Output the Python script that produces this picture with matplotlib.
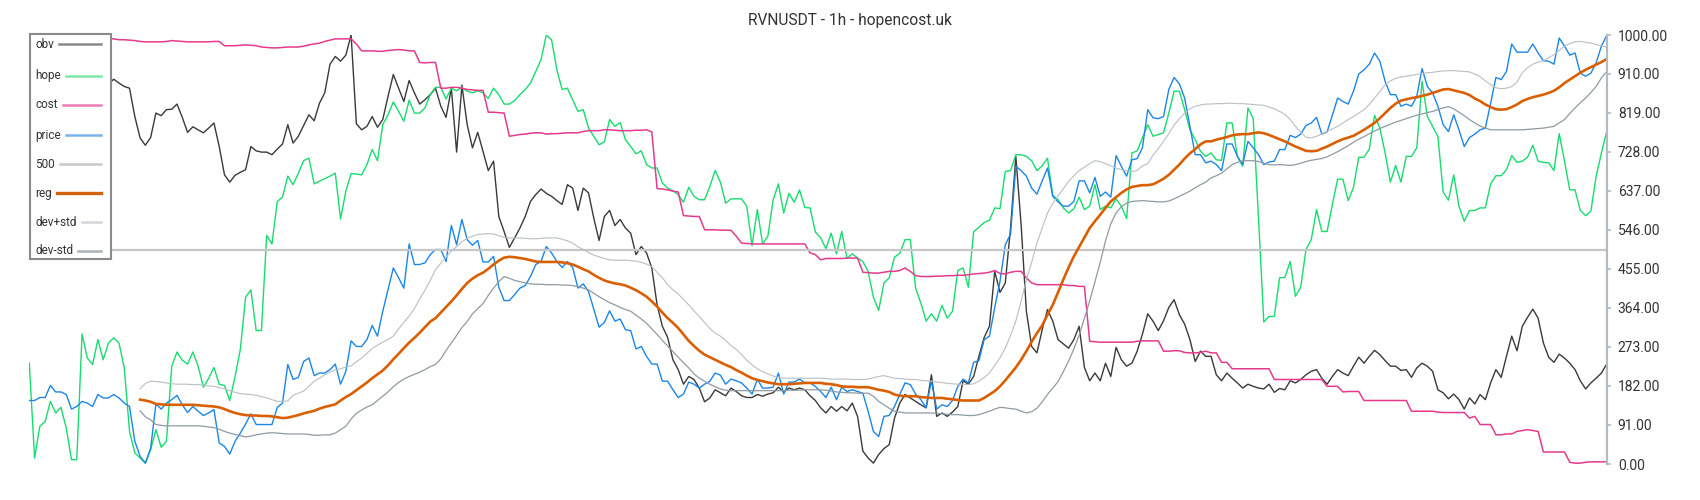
import numpy as np
import matplotlib
matplotlib.use("Agg")
import matplotlib.pyplot as plt
from matplotlib.lines import Line2D
from matplotlib.patches import Rectangle

plt.rcParams['font.family'] = ['Roboto', 'DejaVu Sans']

title = "RVNUSDT - 1h - hopencost.uk"

# all series are scaled 0..1000, one value per hourly bar (300 bars)
obv = [905, 898, 890, 880, 885, 892, 880, 870, 878, 885, 890, 880, 872, 880, 888, 885,
       897, 888, 880, 876, 810, 760, 743, 761, 818, 812, 826, 827, 839, 808, 773, 786, 779, 772, 783, 795,
       740, 674, 657, 673, 680, 686, 740, 730, 727, 727, 721, 734, 746, 791, 748, 764, 789, 814, 800, 841,
       865, 932, 950, 939, 953, 1000, 793, 779, 787, 810, 785, 803, 857, 908, 876, 845, 894, 865, 839, 849,
       861, 876, 834, 808, 876, 727, 883, 791, 737, 773, 729, 684, 706, 577, 542, 505, 527, 550, 577, 612,
       628, 641, 631, 624, 614, 605, 651, 643, 591, 643, 632, 573, 521, 577, 591, 556, 570, 550, 538, 488,
       507, 492, 457, 371, 321, 295, 243, 220, 186, 204, 197, 177, 145, 154, 173, 166, 159, 177, 169, 159,
       155, 155, 162, 158, 163, 166, 179, 168, 177, 173, 177, 173, 159, 148, 131,
       119, 134, 123, 134, 124, 142, 111, 30, 14, 2, 22, 36, 45, 107, 142, 162, 154, 146, 138, 131,
       208, 111, 119, 111, 121, 134, 194, 186, 204, 251, 295, 321, 449, 400, 422, 550, 717, 558, 356, 274,
       259, 313, 360, 333, 290, 280, 270, 290, 321, 225, 194, 212, 194, 235, 204, 272, 243, 228, 235, 263,
       303, 350, 333, 311, 334, 365, 383, 348, 326, 290, 239, 263, 251,
       251, 208, 194, 212, 200, 189, 177, 186, 181, 177, 175, 186, 167, 176, 173, 194, 189, 197, 208, 216,
       220, 200, 186, 204, 220, 212, 206, 228, 249, 235, 251, 265, 255, 241, 228, 228, 218, 220, 202, 224,
       235, 228, 216, 173, 166, 152, 163, 150, 128, 154, 140, 162, 150, 189, 220, 202, 251, 298, 264, 321,
       342, 361, 340, 282, 249, 237, 256, 247, 235, 220, 194, 175, 189, 200, 212, 233]

hope = [235, 14, 88, 99, 146, 119, 132, 84, 10, 10, 303, 247, 232, 290, 243, 282, 294, 282, 224, 76,
        26, 14, 2, 33, 80, 39, 53, 228, 261, 242, 233, 261, 228, 179, 200, 225, 186, 183, 148, 204,
        267, 389, 406, 311, 311, 533, 513, 612, 622, 671, 651, 678, 707, 713, 653, 659, 665, 671, 678, 571,
        636, 677, 676, 674, 698, 733, 707, 791, 814, 844, 822, 799, 848, 818, 818, 830,
        861, 878, 878, 851, 876, 870, 878, 869, 865, 870, 865, 852, 876, 861, 839, 839, 847, 861, 873, 888,
        915, 942, 1000, 989, 919, 873, 876, 849, 822, 826, 783, 764, 744, 751, 803, 787, 796, 756, 740, 723,
        730, 698, 690, 690, 655, 643, 637, 628, 610, 645, 624, 616, 616, 647, 684, 657, 608, 618, 618, 618,
        601, 509, 593, 513, 531, 616, 653, 585, 631, 610, 639, 598, 597, 541, 527,
        502, 538, 490, 542, 479, 490, 480, 472, 449, 389, 358, 422, 434, 482, 491, 523, 523, 410, 375, 333,
        350, 333, 370, 340, 356, 451, 457, 412, 541, 552, 563, 568, 597, 595, 682, 684, 721, 721, 717, 707,
        684, 695, 713, 626, 616, 597, 585, 595, 622, 593, 601, 651, 593, 601, 597, 618, 601, 572, 725, 730,
        760, 791, 764, 768, 772, 818, 869, 869, 826, 779, 756, 729, 717,
        725, 709, 708, 795, 795, 717, 694, 830, 805, 573, 331, 344, 344, 434, 435, 472, 391, 412, 500, 523,
        593, 542, 542, 605, 664, 664, 614, 645, 715, 715, 734, 813, 783, 725, 657, 696, 657, 717, 717, 737,
        892, 810, 787, 764, 634, 615, 674, 601, 566, 591, 591, 597, 597, 653, 672, 672, 686, 719, 703, 706,
        715, 743, 706, 703, 702, 684, 770, 706, 639, 639, 591, 579, 589, 671, 725, 775]

cost = [1000, 999, 1000, 1000, 999, 999, 998, 998, 997, 996, 995, 994, 993, 992, 991, 991,
        991, 989, 989, 988, 987, 985, 984, 984, 984, 984, 985, 987, 986, 985, 984, 984, 984, 984, 984, 985,
        985, 975, 975, 975, 976, 977, 976, 975, 972, 971, 970, 970, 971, 972, 972, 972, 974, 977, 979, 981,
        985, 988, 991, 991, 991, 991, 979, 963, 963, 963, 962, 962, 964, 965, 966, 965, 963, 963, 936, 935,
        936, 936, 876, 876, 878, 878, 876, 873, 872, 871, 871, 820, 820, 819, 818, 764, 766, 768, 769, 771,
        772, 772, 769, 770, 770, 771, 772, 772, 772, 775, 777, 777, 777, 779, 779, 778, 777, 777, 777, 778,
        778, 779, 774, 642, 641, 639, 636, 634, 579, 578, 577, 577, 546, 546, 546, 545, 545, 545, 531, 515,
        514, 513, 513, 513, 513, 513, 513, 513, 513, 513, 513, 513, 492, 488, 476,
        479, 479, 479, 479, 480, 480, 480, 447, 446, 445, 445, 447, 449, 449, 451, 457, 449, 439, 437, 437,
        437, 438, 438, 439, 439, 440, 440, 441, 443, 444, 445, 447, 451, 444, 443, 447, 449, 449, 434, 422,
        418, 418, 418, 418, 418, 418, 416, 416, 414, 414, 286, 285, 284, 284, 284, 284, 284, 284, 284, 286,
        287, 287, 287, 287, 263, 263, 264, 264, 260, 259, 259, 260, 263,
        259, 259, 237, 237, 222, 222, 222, 222, 222, 222, 222, 222, 197, 197, 197, 197, 197, 197, 197, 197,
        197, 197, 181, 181, 181, 168, 169, 169, 169, 148, 148, 148, 148, 148, 148, 148, 148, 148, 123, 123,
        123, 123, 123, 121, 120, 120, 120, 120, 120, 107, 111, 92, 92, 92, 68, 68, 70, 70, 76, 78,
        80, 78, 76, 28, 28, 28, 28, 28, 4, 2, 2, 4, 5, 5, 5, 5]

price = [148, 148, 155, 155, 183, 168, 168, 162, 128, 134, 146, 142, 134, 162, 154, 154, 162, 154, 142, 134,
         53, 18, 2, 37, 140, 128, 142, 150, 160, 138, 120, 134, 123, 113, 119, 127, 49, 41, 23, 53,
         72, 93, 117, 92, 92, 92, 92, 132, 142, 232, 197, 202, 239, 247, 206, 212, 212, 220, 233, 186,
         216, 287, 274, 274, 290, 323, 298, 356, 406, 457, 434, 410, 513, 465, 465, 469,
         488, 500, 500, 472, 556, 511, 570, 523, 510, 521, 471, 471, 484, 412, 381, 381, 395, 410, 416, 437,
         465, 472, 507, 492, 472, 458, 472, 458, 410, 420, 402, 361, 319, 330, 357, 333, 338, 313, 311, 268,
         274, 251, 233, 233, 193, 193, 173, 155, 163, 191, 186, 177, 186, 193, 212, 207, 186, 198, 194, 189,
         177, 163, 197, 177, 177, 179, 212, 163, 191, 191, 198, 189, 189, 181, 169,
         155, 179, 150, 179, 169, 173, 169, 165, 123, 76, 64, 111, 113, 134, 162, 189, 185, 163, 150, 131,
         194, 128, 138, 134, 148, 181, 198, 189, 237, 241, 290, 298, 365, 426, 511, 536, 694, 684, 671, 643,
         629, 660, 690, 624, 611, 601, 601, 612, 660, 660, 632, 668, 624, 634, 622, 719, 694, 671, 709, 712,
         737, 826, 807, 805, 810, 873, 901, 886, 853, 787, 721, 721, 702,
         706, 698, 684, 746, 746, 717, 698, 752, 737, 721, 698, 704, 706, 733, 733, 766, 761, 769, 789, 795,
         808, 769, 774, 813, 853, 845, 839, 869, 909, 919, 932, 958, 939, 892, 861, 861, 834, 839, 834, 857,
         922, 880, 865, 834, 791, 775, 814, 779, 740, 761, 769, 779, 783, 841, 901, 896, 915, 979, 960, 960,
         960, 979, 958, 940, 939, 932, 993, 974, 953, 958, 911, 904, 911, 935, 974, 999]

level_500 = 500

# regression channel only exists from bar 21 on
reg_start = 21
reg = [150, 148, 145, 140, 139, 138, 138, 138, 138, 138, 138, 137, 136, 135, 134, 132, 128, 123, 119, 116,
       114, 113, 113, 112, 112, 111, 109, 107, 108, 111, 114, 118, 121, 124, 129, 133, 136, 139, 148, 156,
       163, 172, 181, 190, 200, 209, 218, 230, 244, 257, 270, 283, 294, 306, 319,
       332, 340, 353, 366, 379, 393, 408, 422, 432, 440, 446, 455, 465, 474, 481, 483, 482, 480, 478, 475,
       472, 471, 471, 471, 471, 470, 468, 465, 460, 454, 449, 441, 434, 428, 424, 421, 419, 416, 411, 405,
       398, 390, 379, 367, 353, 340, 329, 317, 302, 287, 275, 264, 255, 249, 243, 237, 231, 226, 219, 213,
       206, 200, 196, 193, 190, 188, 186, 186, 186, 187, 188, 189, 189, 189, 189,
       187, 186, 184, 181, 180, 180, 179, 179, 179, 176, 173, 171, 168, 162, 159, 158, 158, 158, 156, 155,
       154, 154, 154, 152, 151, 149, 148, 148, 148, 148, 154, 162, 170, 181, 195, 210, 225, 243, 263, 285,
       305, 323, 348, 371, 400, 430, 458, 484, 506, 528, 550, 566, 581, 597, 612, 622, 632, 640, 646, 648,
       650, 650, 652, 658, 665, 674, 686, 698, 712, 724, 734, 745, 752,
       752, 756, 759, 762, 766, 768, 769, 769, 771, 773, 771, 767, 762, 757, 752, 746, 740, 735, 730, 729,
       730, 735, 740, 746, 752, 757, 761, 765, 772, 779, 787, 795, 806, 818, 830, 840, 847, 850, 853, 855,
       858, 861, 865, 869, 873, 874, 871, 868, 865, 860, 852, 846, 838, 832, 827, 826, 827, 832, 838, 846,
       851, 855, 858, 861, 865, 870, 878, 888, 896, 904, 912, 919, 925, 931, 937, 944]

dev_plus = [175, 188, 193, 192, 191, 189, 187, 186, 186, 186, 185, 185, 184, 182, 181, 178, 175, 171, 167, 164,
            163, 162, 160, 157, 154, 150, 146, 146, 147, 160, 165, 170, 181, 193, 200, 208, 214, 219, 222, 226,
            229, 238, 247, 258, 269, 277, 284, 290, 298, 315, 330, 345, 362, 385, 405,
            428, 453, 468, 482, 496, 507, 518, 526, 531, 535, 536, 537, 536, 532, 528, 527, 527, 527, 526, 525,
            525, 526, 527, 527, 527, 524, 520, 515, 506, 500, 493, 487, 483, 479, 476, 475, 475, 475, 474, 473,
            470, 466, 460, 447, 434, 418, 406, 396, 384, 371, 357, 344, 330, 316, 305, 298, 288, 276, 267, 255,
            242, 231, 222, 215, 210, 205, 202, 200, 200, 200, 200, 200, 200, 200, 200,
            199, 198, 198, 198, 198, 197, 197, 197, 198, 201, 204, 206, 203, 200, 199, 198, 197, 197, 195, 194,
            193, 191, 190, 188, 187, 186, 186, 185, 187, 193, 202, 212, 230, 248, 270, 300, 333, 380, 430, 470,
            515, 550, 585, 608, 625, 642, 659, 672, 684, 692, 700, 707, 705, 700, 695, 690, 686, 684, 682, 684,
            695, 700, 720, 735, 752, 770, 790, 805, 818, 828, 834, 837, 839,
            839, 840, 840, 841, 841, 840, 840, 839, 838, 837, 836, 832, 828, 822, 815, 803, 787, 773, 762, 760,
            764, 769, 775, 781, 787, 795, 803, 810, 818, 826, 838, 853, 868, 884, 893, 899, 902, 904, 906, 908,
            910, 912, 913, 915, 916, 917, 917, 916, 915, 914, 909, 903, 893, 884, 877, 875, 876, 880, 890, 912,
            924, 932, 937, 940, 947, 954, 964, 974, 980, 984, 985, 983, 981, 978, 975, 971]

dev_minus = [124, 110, 103, 92, 90, 89, 89, 89, 89, 89, 89, 89, 88, 86, 85, 81, 76, 72, 69, 66,
             63, 65, 68, 70, 72, 73, 72, 71, 70, 70, 70, 70, 69, 67, 67, 68, 68, 72, 80, 88,
             105, 118, 126, 133, 138, 148, 158, 168, 180, 190, 198, 204, 209, 214, 220,
             227, 232, 245, 265, 282, 300, 318, 332, 350, 362, 374, 393, 410, 425, 437, 433, 428, 425, 422, 420,
             419, 419, 418, 418, 418, 417, 417, 416, 413, 410, 406, 398, 390, 383, 376, 371, 365, 360, 356, 347,
             338, 328, 315, 302, 288, 275, 262, 249, 236, 224, 210, 200, 193, 186, 180, 175, 172, 171, 171, 171,
             171, 171, 171, 171, 171, 171, 171, 171, 172, 172, 172, 173, 173, 173, 173,
             172, 170, 168, 167, 166, 166, 165, 165, 165, 158, 146, 138, 130, 123, 121, 119, 119, 119, 119, 119,
             119, 118, 117, 116, 115, 115, 114, 113, 113, 115, 119, 123, 128, 132, 131, 129, 128, 123, 119, 122,
             130, 145, 162, 177, 192, 215, 240, 268, 300, 340, 380, 425, 470, 520, 560, 585, 600, 608, 612, 613,
             614, 613, 612, 611, 611, 613, 618, 624, 630, 636, 644, 651, 657,
             667, 672, 678, 688, 698, 703, 707, 707, 707, 705, 701, 698, 697, 698, 697, 696, 698, 701, 705, 708,
             710, 712, 716, 722, 728, 735, 742, 750, 757, 763, 770, 776, 782, 787, 792, 797, 801, 805, 809, 813,
             816, 819, 822, 826, 830, 833, 828, 820, 812, 803, 795, 788, 783, 779, 779, 779, 779, 779, 779, 779,
             780, 781, 782, 783, 785, 787, 795, 803, 817, 830, 842, 853, 866, 880, 900, 915]

y_ticks = [0, 91, 182, 273, 364, 455, 546, 637, 728, 819, 910, 1000]

legend_labels = ["obv", "hope", "cost", "price", "500", "reg", "dev+std", "dev-std"]
legend_colors = ["#8a8a8a", "#7ee8a6", "#ee7db5", "#79b3ec", "#c8c8c8", "#d2620e", "#d4d8dc", "#a9b3ba"]

W, H = 1700, 500
fig = plt.figure(figsize=(W / 100, H / 100), dpi=100)
ax = fig.add_axes([29.3 / W, 36 / H, (1606.7 - 29.3) / W, 429 / H])

x = np.arange(len(obv))
xr = np.arange(reg_start, reg_start + len(reg))

ax.plot(np.arange(len(obv)), obv, color="#3a3a3a", lw=1.0)
ax.plot(np.arange(len(hope)), hope, color="#17dc6e", lw=1.0)
ax.plot(np.arange(len(cost)), cost, color="#e53a8d", lw=1.1)
ax.plot(np.arange(len(price)), price, color="#1c86e6", lw=1.0)
ax.axhline(level_500, color="#c6c6c6", lw=1.6)
ax.plot(xr, reg, color="#d95f02", lw=1.9)
ax.plot(np.arange(reg_start, reg_start + len(dev_plus)), dev_plus, color="#b8bfc5", lw=0.8)
ax.plot(np.arange(reg_start, reg_start + len(dev_minus)), dev_minus, color="#8f9ba3", lw=0.9)

ax.set_xlim(0, len(obv) - 1)
ax.set_ylim(0, 1000)

# only a right-hand value axis
for side in ["top", "left", "bottom"]:
    ax.spines[side].set_visible(False)
ax.spines["right"].set_color("#b3bbc2")
ax.spines["right"].set_linewidth(1.6)
ax.set_xticks([])
ax.yaxis.tick_right()
ax.set_yticks(y_ticks)
ax.set_yticklabels([f"{v:.2f}" for v in y_ticks])
ax.tick_params(axis="y", length=3, width=1.2, color="#b3bbc2", labelcolor="#333333",
               labelsize=10, pad=5)

fig.text(0.5, 1 - 20 / H, title, ha="center", va="center", fontsize=11.2, color="#333333")

# legend box drawn by hand: label on the left, sample line stretched to the right edge
box_left, box_top, box_right, box_bottom = 29.5, 34, 111, 259
fig.add_artist(Rectangle((box_left / W, 1 - box_bottom / H), (box_right - box_left) / W,
                         (box_bottom - box_top) / H, transform=fig.transFigure,
                         facecolor="white", edgecolor="#8a8a8a", lw=1.5, zorder=5))
renderer = fig.canvas.get_renderer()
row_y = [44, 75.5, 104.5, 135, 164, 193, 222, 251]
for label, color, ry in zip(legend_labels, legend_colors, row_y):
    t = fig.text(35.2 / W, 1 - ry / H, label, ha="left", va="center", fontsize=8.5,
                 color="#333333", zorder=6)
    bb = t.get_window_extent(renderer)
    lw = 2.4 if label == "reg" else 1.8
    fig.add_artist(Line2D([(bb.x1 + 5) / W, 100.6 / W], [1 - ry / H, 1 - ry / H],
                          transform=fig.transFigure, color=color, lw=lw, zorder=6))

fig.savefig("out.png", dpi=100)
